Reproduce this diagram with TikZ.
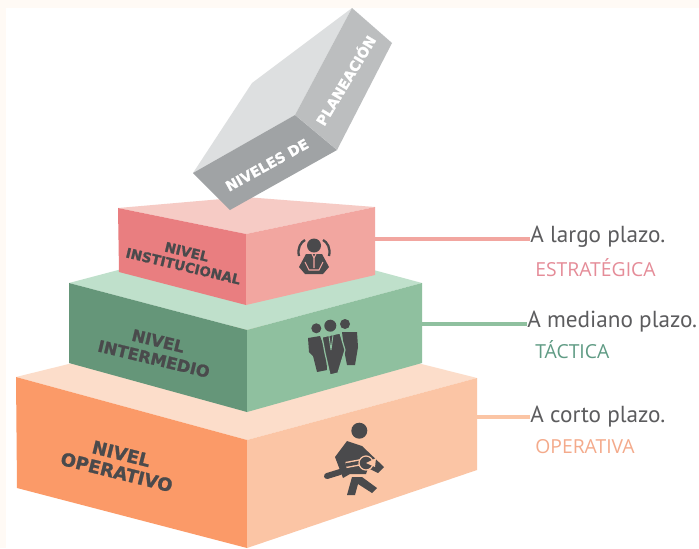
\documentclass[tikz,border=0pt]{standalone}
\usepackage{fontspec}
\usepackage{tikz}
\usetikzlibrary{positioning}
\setmainfont{PT Sans}
\newfontfamily\tipofont{Open Sans}
\newfontfamily\levelfont[BoldFeatures={FakeBold=1.2}]{DejaVu Sans}

\definecolor{redleft}{HTML}{E97E80}
\definecolor{redright}{HTML}{F2A6A0}
\definecolor{redtop}{HTML}{F6CBC5}
\definecolor{greenleft}{HTML}{659679}
\definecolor{greenright}{HTML}{8FC09F}
\definecolor{greentop}{HTML}{BFE0CB}
\definecolor{orangeleft}{HTML}{FB9A68}
\definecolor{orangeright}{HTML}{FBC5A5}
\definecolor{orangetop}{HTML}{FCDDCA}
\definecolor{greydark}{HTML}{A0A3A5}
\definecolor{greymid}{HTML}{BCBEBF}
\definecolor{greylight}{HTML}{DDDFE0}
\definecolor{icondark}{HTML}{4A4A4C}
\definecolor{labelred}{HTML}{E58C98}
\definecolor{labelgreen}{HTML}{5F9B84}
\definecolor{labelorange}{HTML}{F4AA8B}

\begin{document}
\begin{tikzpicture}[x=0.02cm,y=-0.02cm]
  \tikzstyle{level}=[text=icondark,align=center,inner sep=0pt]
  \tikzstyle{boxtext}=[font=\levelfont\bfseries\fontsize{8}{9}\selectfont,text=white,inner sep=0pt]
  \tikzstyle{plazo}=[font=\fontsize{13.2}{16}\selectfont,text=icondark!90,anchor=west,inner sep=0pt]
  \tikzstyle{tipo}=[font=\tipofont\fontsize{11}{13}\selectfont,anchor=west,inner sep=0pt]
  \tikzstyle{link}=[line width=2pt]
  \tikzstyle{icon}=[fill=icondark]

  \useasboundingbox (0,0) rectangle (699,548);
  \fill[black!3!orange!4!white] (0,0) rectangle (699,548);
  \fill[white] (6,8) rectangle (699,548);

  % connectors
  \node[plazo] (largo) at (530,237) {A largo plazo.};
  \node[tipo,text=labelred] (estrategica) at (535,268) {ESTRATÉGICA};
  \node[plazo] (mediano) at (527,322) {A mediano plazo.};
  \node[tipo,text=labelgreen] (tactica) at (535,350) {TÁCTICA};
  \node[plazo] (corto) at (530,417) {A corto plazo.};
  \node[tipo,text=labelorange] (operativa) at (535,447) {OPERATIVA};

  \coordinate (redend) at (370,239);
  \coordinate (greenend) at (418,324);
  \coordinate (orangeend) at (472,417);
  \draw[link,draw=redright] (redend) -- (redend -| largo.west);
  \draw[link,draw=greenright] (greenend) -- (greenend -| mediano.west);
  \draw[link,draw=orangeright] (orangeend) -- (orangeend -| corto.west);

  % orange block
  \fill[orangetop] (16,377) -- (247,320) -- (477,378) -- (247,440) -- cycle;
  \fill[orangeleft] (16,377) -- (247,440) -- (247,548) -- (17,488) -- cycle;
  \fill[orangeright] (247,440) -- (477,378) -- (477,470) -- (247,548) -- cycle;

  % green block
  \fill[greentop] (69,283) -- (247,236) -- (422,283) -- (247,330) -- cycle;
  \fill[greenleft] (69,283) -- (247,330) -- (247,412) -- (69,363) -- cycle;
  \fill[greenright] (247,330) -- (422,283) -- (422,363) -- (247,412) -- cycle;

  % red block
  \fill[redtop] (118,208) -- (245,197) -- (375,207) -- (246,234) -- cycle;
  \fill[redleft] (118,208) -- (246,234) -- (246,305) -- (119,272) -- cycle;
  \fill[redright] (246,234) -- (375,207) -- (375,275) -- (246,305) -- cycle;

  % grey box
  \fill[greylight] (193,173) -- (252,83) -- (352,8) -- (295,115) -- cycle;
  \fill[greydark] (193,173) -- (295,115) -- (337,150) -- (230,210) -- cycle;
  \fill[greymid] (295,115) -- (352,8) -- (392,43) -- (337,150) -- cycle;

  \node[boxtext,rotate=29] (niveles) at (267,165) {NIVELES DE};
  \node[boxtext,rotate=59] (planeacion) at (345,80) {PLANEACIÓN};

  \node[level,rotate=-13.5,font=\levelfont\bfseries\fontsize{7.7}{8.4}\selectfont] (institucional) at (185,259) {NIVEL\\INSTITUCIONAL};
  \node[level,rotate=-13.5,font=\levelfont\bfseries\fontsize{9.2}{10.5}\selectfont] (intermedio) at (156,350) {NIVEL\\INTERMEDIO};
  \node[level,rotate=-14,font=\levelfont\bfseries\fontsize{10.2}{10.8}\selectfont] (operativo) at (119,463) {NIVEL\\OPERATIVO};

  % icon, executive
  \fill[icon] (314,245.5) circle (7);
  \draw[icondark,line width=1.3pt] (299,256) .. controls (297,248) and (301,242) .. (305,240);
  \draw[icondark,line width=1.3pt] (329,256) .. controls (331,248) and (327,242) .. (323,240);
  \fill[icon] (306,254) -- (322,254) -- (329,267) -- (323,274) -- (305,274) -- (299,267) -- cycle;
  \draw[redright,line width=0.6pt] (312,254) -- (314,258) -- (316,254) (314,258) -- (314,268);
  \draw[redright,line width=0.6pt] (305,262) -- (309,270) -- (319,270) -- (323,262);

  % icon, group
  \fill[icon] (316.3,328.3) circle (5);
  \fill[icon] (330.3,325.7) circle (6);
  \fill[icon] (345,324) circle (5);
  \fill[icon] (308,338) -- (320,336) -- (326,352) -- (327,370) -- (317,372) -- (313,356) -- (309,352) -- cycle;
  \fill[icon] (342,332) -- (357,332) -- (358,347) -- (355,365) -- (347,365) -- (344,350) -- cycle;
  \filldraw[icon,draw=greenright,line width=0.7pt] (322,337) -- (340,333) -- (345,350) -- (338,373) -- (330,375) -- (325,353) -- cycle;
  \draw[greenright,line width=0.5pt] (329,336) -- (331,350) (333,335) -- (331,350);

  % icon, worker
  \fill[icon] (359.3,430.7) circle (8);
  \fill[icon] (347,441) -- (362,446) -- (384,467) -- (378,473) -- (368,468) -- (366,474) -- (350,474) -- (343,478) -- (335,457) -- cycle;
  \draw[icondark,line width=3.4pt,line cap=round] (327,476) -- (340,472);
  \fill[icon] (347,495) -- (352,477) -- (362,477) -- (377,488) -- (372,493) -- (358,484) -- (355,495) -- cycle;
  \draw[orangeright,line width=3.6pt] (346,465) -- (362,462);
  \draw[icondark,line width=2pt] (346,465) -- (362,462);
  \filldraw[icon,draw=orangeright,line width=0.7pt] (366,463) circle (7);
  \fill[orangeright] (366,463) -- (376,458) -- (375,467) -- cycle;
\end{tikzpicture}
\end{document}
